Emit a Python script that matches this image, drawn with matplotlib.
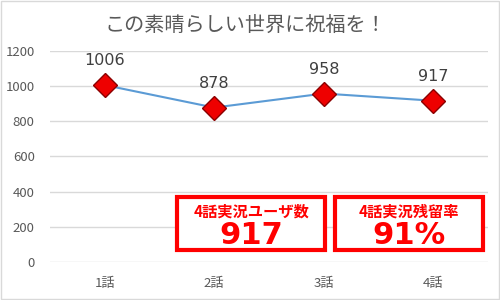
import matplotlib
matplotlib.use("Agg")
import matplotlib.pyplot as plt
from matplotlib.patches import Rectangle

plt.rcParams['font.family'] = ['Noto Sans CJK JP', 'DejaVu Sans']

categories = ["1話", "2話", "3話", "4話"]
users = [1006, 878, 958, 917]
yticks = [0, 200, 400, 600, 800, 1000, 1200]
title = "この素晴らしい世界に祝福を！"
box_labels = ["4話実況ユーザ数", "4話実況残留率"]
box_values = ["917", "91%"]

fig = plt.figure(figsize=(5, 3), dpi=100)
fig.patches.append(Rectangle((0.002, 0.003), 0.995, 0.993, transform=fig.transFigure,
                             fill=False, edgecolor="#d9d9d9", linewidth=1))
ax = fig.add_axes([0.1, 0.127, 0.876, 0.703])
x = list(range(len(categories)))
ax.plot(x, users, color="#5B9BD5", linewidth=1.5, zorder=2)
ax.plot(x, users, linestyle="none", marker="D", markersize=12,
        markerfacecolor="#ee0000", markeredgecolor="#8b0000", markeredgewidth=1, zorder=3)
for xi, v in zip(x, users):
    ax.annotate(str(v), (xi, v), xytext=(0, 12), textcoords="offset points",
                ha="center", va="bottom", fontsize=11.5, color="#404040",
                family=['DejaVu Sans'])

ax.set_xlim(-0.5, 3.5)
ax.set_ylim(0, 1200)
ax.set_yticks(yticks)
ax.set_xticks(x)
ax.set_xticklabels(categories)
ax.tick_params(axis='both', length=0, colors="#595959", labelsize=9.5)
ax.tick_params(axis='y', pad=11)
ax.tick_params(axis='x', pad=11)
ax.grid(axis='y', color="#d9d9d9", linewidth=1)
ax.set_axisbelow(True)
for s in ax.spines.values():
    s.set_visible(False)

fig.text(0.49, 0.915, title, ha="center", va="center", fontsize=14.5, color="#595959")

boxes = [(177, 325), (335, 483)]
for (x0, x1), lab, val in zip(boxes, box_labels, box_values):
    fx0, fx1 = x0 / 500, x1 / 500
    fy0, fy1 = 1 - 250 / 300, 1 - 197 / 300
    fig.patches.append(Rectangle((fx0, fy0), fx1 - fx0, fy1 - fy0, transform=fig.transFigure,
                                 facecolor="white", edgecolor="#ff0000", linewidth=3, zorder=5))
    cx = (fx0 + fx1) / 2
    fig.text(cx, 1 - 212 / 300, lab, ha="center", va="center", fontsize=11,
             fontweight="bold", color="#ff0000", zorder=6)
    fig.text(cx, 1 - 236 / 300, val, ha="center", va="center", fontsize=22,
             fontweight="bold", color="#ff0000", zorder=6, family=['DejaVu Sans'])

fig.savefig("out.png", dpi=100)
